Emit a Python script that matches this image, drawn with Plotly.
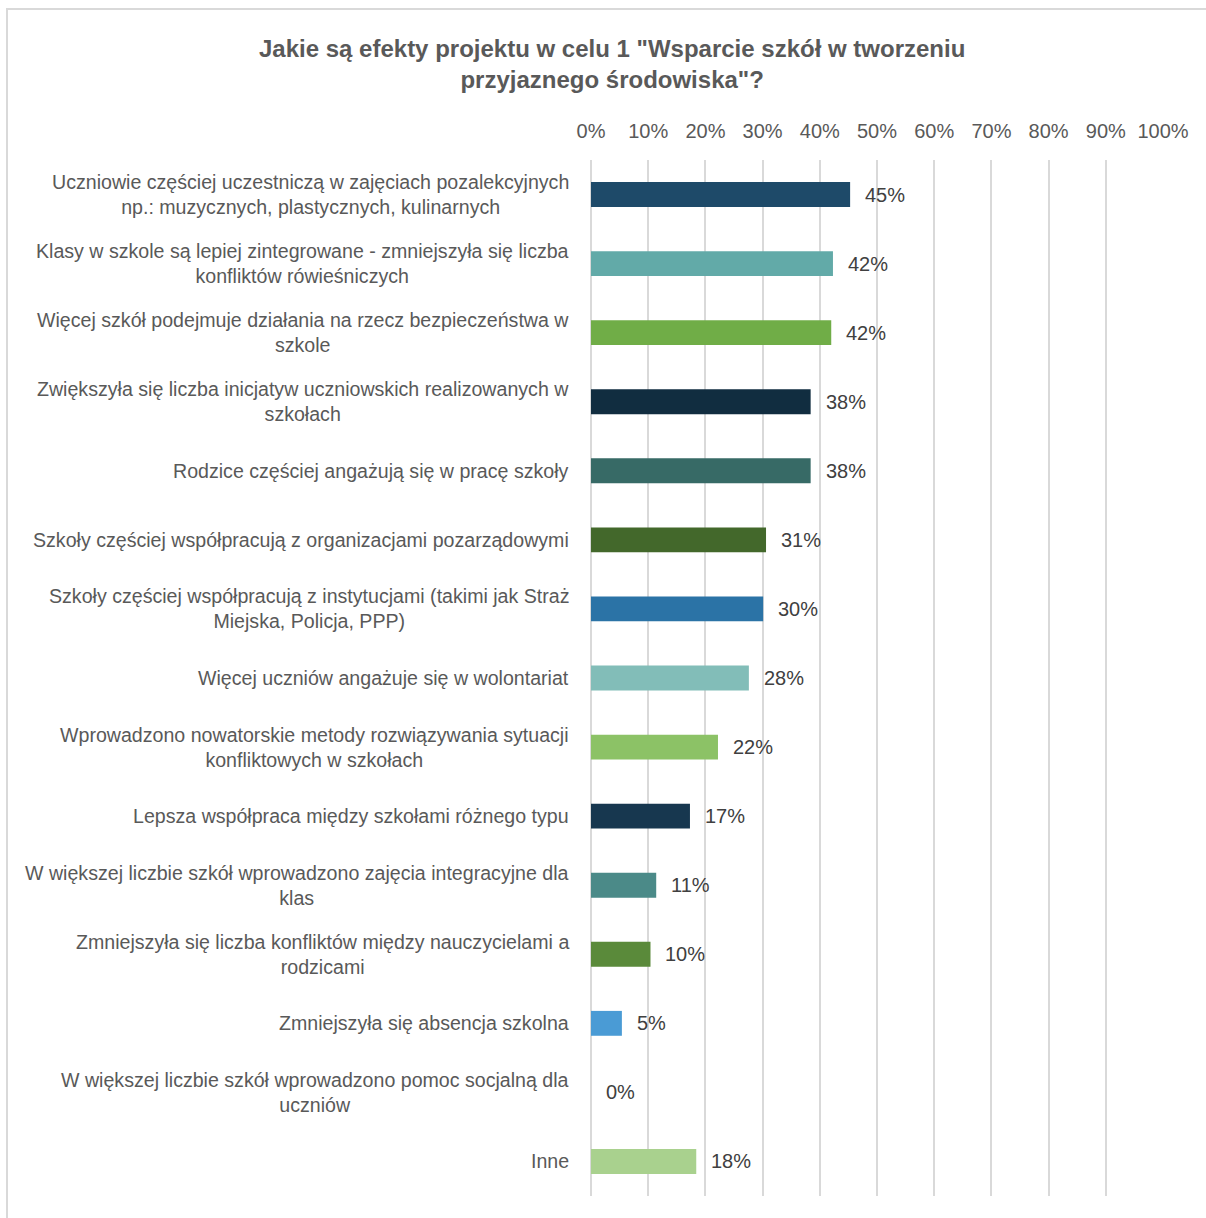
import plotly.graph_objects as go

categories = [
    "Uczniowie częściej uczestniczą w zajęciach pozalekcyjnych<br>np.: muzycznych, plastycznych, kulinarnych",
    "Klasy w szkole są lepiej zintegrowane - zmniejszyła się liczba<br>konfliktów rówieśniczych",
    "Więcej szkół podejmuje działania na rzecz bezpieczeństwa w<br>szkole",
    "Zwiększyła się liczba inicjatyw uczniowskich realizowanych w<br>szkołach",
    "Rodzice częściej angażują się w pracę szkoły",
    "Szkoły częściej współpracują z organizacjami pozarządowymi",
    "Szkoły częściej współpracują z instytucjami (takimi jak Straż<br>Miejska, Policja, PPP)",
    "Więcej uczniów angażuje się w wolontariat",
    "Wprowadzono nowatorskie metody rozwiązywania sytuacji<br>konfliktowych w szkołach",
    "Lepsza współpraca między szkołami różnego typu",
    "W większej liczbie szkół wprowadzono zajęcia integracyjne dla<br>klas",
    "Zmniejszyła się liczba konfliktów między nauczycielami a<br>rodzicami",
    "Zmniejszyła się absencja szkolna",
    "W większej liczbie szkół wprowadzono pomoc socjalną dla<br>uczniów",
    "Inne",
]
values = [45.3, 42.3, 42.0, 38.4, 38.4, 30.6, 30.1, 27.6, 22.2, 17.3, 11.4, 10.4, 5.4, 0.0, 18.4]
value_labels = ["45%", "42%", "42%", "38%", "38%", "31%", "30%", "28%", "22%", "17%", "11%", "10%", "5%", "0%", "18%"]
colors = ["#1E4A69", "#62AAA8", "#70AD47", "#112D40", "#376A66", "#43682B", "#2B73A6",
          "#82BDB8", "#8CC266", "#17374F", "#4B8A88", "#5A8A3A", "#4A9BD5", "#4A9BD5", "#A9D18E"]
tick_vals = [0, 10, 20, 30, 40, 50, 60, 70, 80, 90, 100]
tick_text = [f"{v}%" for v in tick_vals]
title_text = "<b>Jakie są efekty projektu w celu 1 \"Wsparcie szkół w tworzeniu<br>przyjaznego środowiska\"?</b>"

FONT = "Liberation Sans, Arial, sans-serif"
ids = list(range(len(categories)))

fig = go.Figure(go.Bar(
    x=values, y=ids, orientation="h", width=0.36,
    marker=dict(color=colors, line=dict(width=0)),
    hoverinfo="skip",
))

annotations = []
for i, (c, v, t) in enumerate(zip(categories, values, value_labels)):
    annotations.append(dict(
        x=-0.035, xref="paper", y=i, yref="y", text=c, showarrow=False,
        xanchor="right", yanchor="middle", align="center",
        font=dict(family=FONT, size=19.6, color="#595959"),
    ))
    annotations.append(dict(
        x=v, xref="x", y=i, yref="y", text=t, showarrow=False,
        xanchor="left", yanchor="middle", xshift=13,
        font=dict(family=FONT, size=20, color="#404040"),
    ))
annotations.append(dict(
    x=0.0367, xref="paper", y=1.0922, yref="paper", text=title_text, showarrow=False,
    xanchor="center", yanchor="middle", align="center",
    font=dict(family=FONT, size=24, color="#595959"),
))

fig.update_layout(
    width=1206, height=1218,
    margin=dict(l=591, r=43, t=160, b=22, pad=0),
    paper_bgcolor="white", plot_bgcolor="white",
    showlegend=False,
    annotations=annotations,
    shapes=[dict(type="rect", xref="paper", yref="paper",
                 x0=-1.021, x1=1.09, y0=-0.04, y1=1.1457,
                 line=dict(color="#D9D9D9", width=2), layer="below")],
    xaxis=dict(range=[0, 100], side="top", tickvals=tick_vals, ticktext=tick_text,
               showgrid=True, gridcolor="#D9D9D9", gridwidth=2,
               zeroline=True, zerolinecolor="#D9D9D9", zerolinewidth=2,
               showline=False, ticks="", ticklabelstandoff=17,
               tickfont=dict(family=FONT, size=20, color="#595959")),
    yaxis=dict(tickvals=ids, showticklabels=False, range=[len(ids) - 0.5, -0.5],
               showgrid=False, zeroline=False, showline=False),
)

fig.write_html("out.html", config={"displayModeBar": False},
               post_script="document.body.style.margin='0';")
